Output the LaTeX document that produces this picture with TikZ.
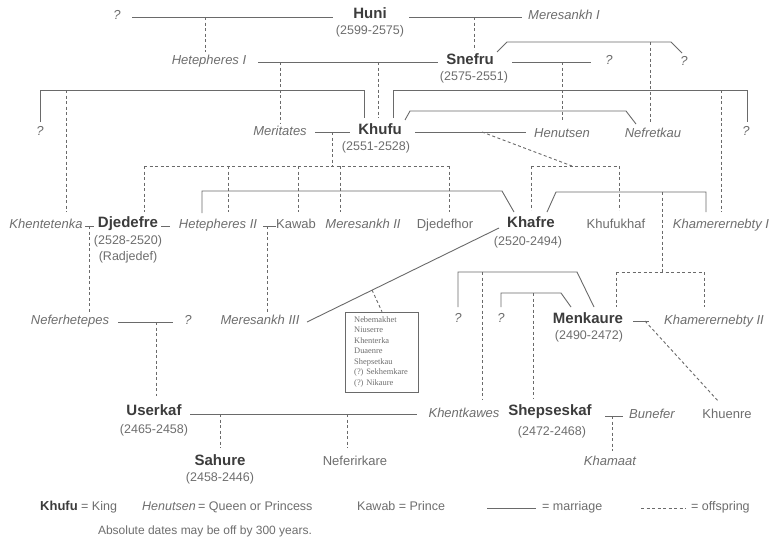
\documentclass[tikz,border=0pt]{standalone}
\usepackage{fontspec}
\setmainfont{Liberation Sans}
\newfontfamily\boxfont{Liberation Serif}
\definecolor{ln}{HTML}{6A6A6A}
\definecolor{nm}{HTML}{6E6E6E}
\definecolor{kg}{HTML}{3C3C3C}
\begin{document}
\begin{tikzpicture}[x=1pt,y=-1pt,
  txt/.style={inner sep=0pt, text height=0.72em, text depth=0.2em},
  king/.style={txt, font=\fontsize{15}{15}\selectfont\bfseries, text=kg},
  dt/.style={txt, font=\fontsize{12.5}{13}\selectfont, text=nm},
  qn/.style={txt, font=\fontsize{13}{13}\selectfont\itshape, text=nm},
  pr/.style={txt, font=\fontsize{13}{13}\selectfont, text=nm},
  lg/.style={txt, font=\fontsize{12.5}{13}\selectfont, text=nm, anchor=west},
  marr/.style={draw=ln, line width=0.9pt},
  offs/.style={draw=ln, line width=0.9pt, dash pattern=on 3pt off 2.5pt},
  kidsbox/.style={draw=ln, line width=0.6pt, minimum width=73pt, minimum height=80pt, inner sep=0pt}]
\useasboundingbox (0,0) rectangle (779,541);
\fill[white] (0,0) rectangle (779,541);

% ---------- nodes ----------
\node[qn] (q1) at (117,17) {?};
\node[king] (huni) at (370,16) {Huni};
\node[dt] (huniD) at (370,32) {(2599-2575)};
\node[qn,anchor=west] (mer1) at (528,17) {Meresankh I};
\node[qn] (hetep1) at (209,62) {Hetepheres I};
\node[king] (snefru) at (470,62) {Snefru};
\node[dt] (snefruD) at (474,78) {(2575-2551)};
\node[qn] (q2) at (609,62) {?};
\node[qn] (q3) at (684,63) {?};
\node[qn] (q4) at (40,133) {?};
\node[qn] (meritates) at (280,133) {Meritates};
\node[king] (khufu) at (380,132) {Khufu};
\node[dt] (khufuD) at (376,148) {(2551-2528)};
\node[qn] (henutsen) at (562,135) {Henutsen};
\node[qn] (nefretkau) at (653,135) {Nefretkau};
\node[qn] (q5) at (746,133) {?};
\node[qn] (khentetenka) at (46,226) {Khentetenka};
\node[king] (djedefre) at (128,225) {Djedefre};
\node[dt] (djedefreD) at (128,242) {(2528-2520)};
\node[dt] (radjedef) at (128,258) {(Radjedef)};
\node[qn] (hetep2) at (218,226) {Hetepheres II};
\node[pr] (kawab) at (296,226) {Kawab};
\node[qn] (mer2) at (363,226) {Meresankh II};
\node[pr] (djedefhor) at (445,226) {Djedefhor};
\node[king] (khafre) at (531,225) {Khafre};
\node[dt] (khafreD) at (528,243) {(2520-2494)};
\node[pr] (khufukhaf) at (616,226) {Khufukhaf};
\node[qn] (kham1) at (721,226) {Khamerernebty I};
\node[qn] (neferhetepes) at (70,322) {Neferhetepes};
\node[qn] (q6) at (188,322) {?};
\node[qn] (mer3) at (260,322) {Meresankh III};
\node[kidsbox] (kids) at (382,352) {};
\node[anchor=north west, align=left, inner sep=0pt, text=nm,
      font=\boxfont\fontsize{8.4}{10.5}\selectfont] (kidsT) at (354,316)
  {Nebemakhet\\Niuserre\\Khenterka\\Duaenre\\Shepsetkau\\(?) Sekhemkare\\(?) Nikaure};
\node[qn] (q7) at (458,320) {?};
\node[qn] (q8) at (501,320) {?};
\node[king] (menkaure) at (588,321) {Menkaure};
\node[dt] (menkaureD) at (589,337) {(2490-2472)};
\node[qn] (kham2) at (714,322) {Khamerernebty II};
\node[king] (userkaf) at (154,413) {Userkaf};
\node[dt] (userkafD) at (154,431) {(2465-2458)};
\node[qn] (khentkawes) at (464,415) {Khentkawes};
\node[king] (shepseskaf) at (550,413) {Shepseskaf};
\node[dt] (shepseskafD) at (552,433) {(2472-2468)};
\node[qn] (bunefer) at (652,416) {Bunefer};
\node[pr] (khuenre) at (727,416) {Khuenre};
\node[qn] (khamaat) at (610,463) {Khamaat};
\node[king] (sahure) at (220,463) {Sahure};
\node[dt] (sahureD) at (220,479) {(2458-2446)};
\node[pr] (neferirkare) at (355,463) {Neferirkare};

% ---------- junction coordinates ----------
\coordinate (m1a) at (132,17);  \coordinate (m1b) at (333,17);
\coordinate (m2a) at (409,17);  \coordinate (m2b) at (522,17);
\coordinate (m3a) at (258,62);  \coordinate (m3b) at (438,62);
\coordinate (m4a) at (512,62);  \coordinate (m4b) at (591,62);
\coordinate (m5a) at (315,132); \coordinate (m5b) at (350,132);
\coordinate (m6a) at (415,132); \coordinate (m6b) at (526,132);

% ---------- generation 1 ----------
\draw[marr] (m1a) -- (m1b);
\draw[marr] (m2a) -- (m2b);
\draw[offs] (205,17) -- (205,52);
\draw[offs] (474,17) -- (474,50);

% ---------- Snefru ----------
\draw[marr] (m3a) -- (m3b);
\draw[marr] (m4a) -- (m4b);
\draw[marr] (497,52) -- (507,42) -- (671,42) -- (682,53);
\draw[offs] (650,42) -- (650,123);
\draw[offs] (562,62) -- (562,122);
\draw[offs] (280,62) -- (280,124);
\draw[offs] (378,62) -- (378,118);

% ---------- Khufu ----------
\draw[marr] (40,122) -- (40,90) -- (364,90) -- (364,118);
\draw[offs] (66,90) -- (66,212);
\draw[marr] (393,118) -- (393,90) -- (747,90) -- (747,122);
\draw[offs] (721,90) -- (721,212);
\draw[marr] (405,120) -- (410,111) -- (626,111) -- (636,124);
\draw[marr] (m5a) -- (m5b);
\draw[offs] (332,132) -- (332,166);
\draw[marr] (m6a) -- (m6b);
\draw[offs] (482,132) -- (572,166);
\draw[offs] (144,166) -- (449,166);
\foreach \x in {144,228,298,340,449} \draw[offs] (\x,166) -- (\x,212);
\draw[offs] (531,166) -- (619,166);
\foreach \x in {531,619} \draw[offs] (\x,166) -- (\x,210);

% ---------- Khafre ----------
\draw[marr] (202,213) -- (202,191) -- (502,191) -- (514,212);
\draw[marr] (547,212) -- (556,192) -- (706,192) -- (706,212);
\draw[offs] (662,192) -- (662,272);
\draw[offs] (616,272) -- (704,272);
\draw[offs] (616,272) -- (616,307);
\draw[offs] (704,272) -- (704,307);
\draw[marr] (499,228) -- (307,322);
\draw[offs] (372,290) -- (kids.north);

% ---------- Djedefre & Kawab ----------
\draw[marr] (85,226) -- (94,226);
\draw[offs] (89,226) -- (89,312);
\draw[marr] (161,226) -- (170,226);
\draw[marr] (263,226) -- (276,226);
\draw[offs] (267,226) -- (267,312);
\draw[marr] (118,322) -- (173,322);
\draw[offs] (156,322) -- (156,396);

% ---------- Menkaure ----------
\draw[marr] (458,307) -- (458,272) -- (577,272) -- (594,307);
\draw[offs] (482,272) -- (482,400);
\draw[marr] (501,307) -- (501,293) -- (561,293) -- (571,307);
\draw[offs] (533,293) -- (533,398);
\draw[marr] (633,321) -- (649,321);
\draw[offs] (645,321) -- (719,402);

% ---------- Userkaf / Shepseskaf ----------
\draw[marr] (190,414) -- (417,414);
\draw[offs] (220,414) -- (220,448);
\draw[offs] (347,414) -- (347,448);
\draw[marr] (605,416) -- (623,416);
\draw[offs] (612,416) -- (612,451);

% ---------- legend ----------
\node[txt, font=\fontsize{13}{13}\selectfont\bfseries, text=kg, anchor=west] (lgK) at (40,508) {Khufu};
\node[lg] (lgK2) at (81,508) {= King};
\node[lg, font=\fontsize{12.5}{13}\selectfont\itshape] (lgQ) at (142,508) {Henutsen};
\node[lg] (lgQ2) at (198,508) {= Queen or Princess};
\node[lg] (lgP) at (357,508) {Kawab = Prince};
\coordinate (lgMa) at (487,508); \coordinate (lgMb) at (536,508);
\draw[marr] (lgMa) -- (lgMb);
\node[lg] (lgM) at (542,508) {= marriage};
\coordinate (lgOa) at (641,508); \coordinate (lgOb) at (686,508);
\draw[offs] (lgOa) -- (lgOb);
\node[lg] (lgO) at (691,508) {= offspring};
\node[txt, font=\fontsize{12}{13}\selectfont, text=nm] (note) at (205,532) {Absolute dates may be off by 300 years.};
\end{tikzpicture}
\end{document}
